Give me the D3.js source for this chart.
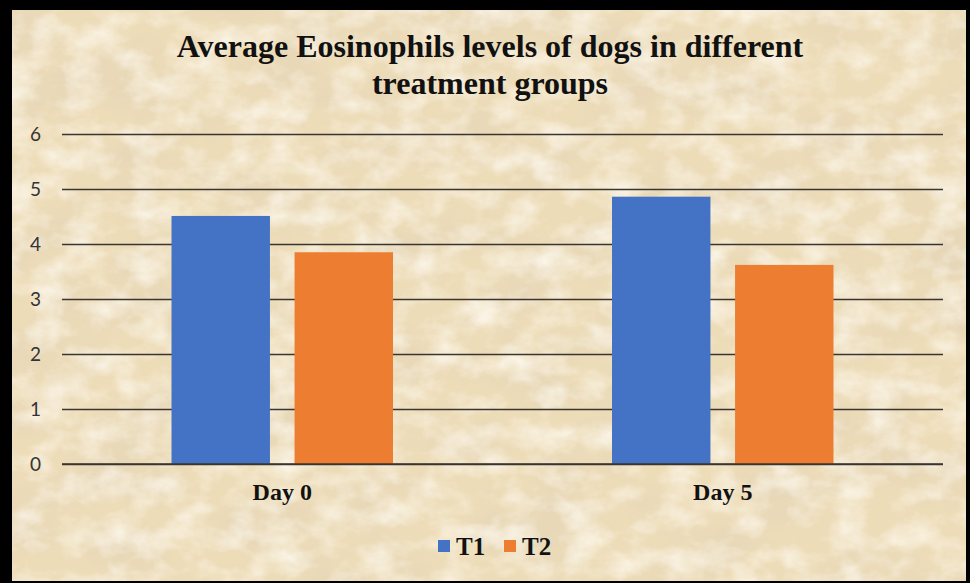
<!DOCTYPE html>
<html>
<head>
<meta charset="utf-8">
<script src="https://cdn.jsdelivr.net/npm/d3@7"></script>
<style>
  body { margin: 0; background: #000; }
  svg { display: block; }
</style>
</head>
<body>
<svg id="chart"></svg>
<script>
// Data
const categories = ["Day 0", "Day 5"];
const series = ["T1", "T2"];
const t1Values = [4.51, 4.86];
const t2Values = [3.85, 3.62];
const yTicks = [0, 1, 2, 3, 4, 5, 6];
const titleLines = ["Average Eosinophils levels of dogs in different", "treatment groups"];

const colors = { T1: "#4472C4", T2: "#ED7D31" };

const svgWidth = 970;
const svgHeight = 583;
const margin = { top: 134, right: 27, bottom: 119, left: 62 };
const width = svgWidth - margin.left - margin.right;
const height = svgHeight - margin.top - margin.bottom;

const serif = "'Liberation Serif', 'Times New Roman', serif";

const svg = d3.select("#chart")
    .attr("width", svgWidth)
    .attr("height", svgHeight);

// Parchment-like texture
const defs = svg.append("defs");
const filter = defs.append("filter").attr("id", "paper")
    .attr("x", 0).attr("y", 0).attr("width", "100%").attr("height", "100%");
filter.append("feTurbulence")
    .attr("type", "fractalNoise")
    .attr("baseFrequency", "0.012 0.018")
    .attr("numOctaves", 5)
    .attr("seed", 11)
    .attr("result", "noise");
filter.append("feColorMatrix")
    .attr("in", "noise")
    .attr("type", "matrix")
    .attr("values", "0 0 0 0 0.78  0 0 0 0 0.67  0 0 0 0 0.48  1.7 0 0 0 -0.7")
    .attr("result", "dark");
filter.append("feTurbulence")
    .attr("type", "fractalNoise")
    .attr("baseFrequency", "0.03 0.04")
    .attr("numOctaves", 4)
    .attr("seed", 3)
    .attr("result", "noise2");
filter.append("feColorMatrix")
    .attr("in", "noise2")
    .attr("type", "matrix")
    .attr("values", "0 0 0 0 0.98  0 0 0 0 0.94  0 0 0 0 0.85  0 1.6 0 0 -0.62")
    .attr("result", "light");
filter.append("feMerge").call(m => {
    m.append("feMergeNode").attr("in", "dark");
    m.append("feMergeNode").attr("in", "light");
}).attr("result", "merged");
filter.append("feComposite").attr("in", "merged").attr("in2", "SourceGraphic").attr("operator", "in");

// Frame + background
svg.append("rect")
    .attr("width", svgWidth).attr("height", svgHeight)
    .attr("fill", "#000");
svg.append("rect")
    .attr("x", 12).attr("y", 10)
    .attr("width", 954).attr("height", 571)
    .attr("fill", "#EDDCB8");
svg.append("rect")
    .attr("x", 12).attr("y", 10)
    .attr("width", 954).attr("height", 571)
    .attr("fill", "#fff")
    .attr("filter", "url(#paper)");

// Title
svg.append("text")
    .attr("x", 490)
    .attr("y", 57)
    .attr("text-anchor", "middle")
    .attr("font-family", serif)
    .attr("font-weight", "bold")
    .attr("font-size", 32)
    .attr("fill", "#111")
    .selectAll("tspan")
    .data(titleLines)
    .enter().append("tspan")
    .attr("x", 490)
    .attr("dy", (d, i) => i === 0 ? 0 : 37)
    .text(d => d);

const chart = svg.append("g")
    .attr("transform", `translate(${margin.left},${margin.top})`);

// Scales
const x0 = d3.scaleBand()
    .domain(categories)
    .range([0, width])
    .padding(0);

const x1 = d3.scaleBand()
    .domain(series)
    .range([0, x0.bandwidth()])
    .paddingInner(0.2)
    .paddingOuter(0.89);

const yScale = d3.scaleLinear()
    .domain([0, 6])
    .range([height, 0]);

// Gridlines
chart.append("g")
    .call(d3.axisLeft(yScale).tickValues(yTicks).tickSize(-width).tickFormat(""))
    .call(g => g.select(".domain").remove())
    .selectAll("line")
    .attr("stroke", "#3a3530")
    .attr("stroke-width", 1.6);

// Y labels
const yAxis = chart.append("g")
    .call(d3.axisLeft(yScale).tickValues(yTicks).tickSize(0).tickPadding(21).tickFormat(d3.format("d")))
    .attr("font-family", "Lato, 'Open Sans', sans-serif")
    .attr("font-size", 19);
yAxis.select(".domain").remove();
yAxis.selectAll("text").attr("fill", "#333");

// Bars
const rows = categories.map((c, i) => ({ category: c, T1: t1Values[i], T2: t2Values[i] }));

const groups = chart.selectAll(".group")
    .data(rows)
    .enter().append("g")
    .attr("class", "group")
    .attr("transform", d => `translate(${x0(d.category)},0)`);

groups.selectAll("rect")
    .data(d => series.map(s => ({ key: s, value: d[s] })))
    .enter().append("rect")
    .attr("x", d => x1(d.key))
    .attr("y", d => yScale(d.value))
    .attr("width", x1.bandwidth())
    .attr("height", d => height - yScale(d.value))
    .attr("fill", d => colors[d.key]);

// Baseline over bars
chart.append("line")
    .attr("x1", 0).attr("x2", width)
    .attr("y1", height).attr("y2", height)
    .attr("stroke", "#3a3530")
    .attr("stroke-width", 1.6);

// X labels
const xAxis = chart.append("g")
    .attr("transform", `translate(0,${height})`)
    .call(d3.axisBottom(x0).tickSize(0).tickPadding(19))
    .attr("font-family", serif)
    .attr("font-weight", "bold")
    .attr("font-size", 24);
xAxis.select(".domain").remove();
xAxis.selectAll("text").attr("fill", "#111");

// Legend
const legend = svg.append("g")
    .attr("transform", "translate(438,540)");

const legendItems = legend.selectAll(".item")
    .data(series)
    .enter().append("g")
    .attr("class", "item")
    .attr("transform", (d, i) => `translate(${i * 66},0)`);

legendItems.append("rect")
    .attr("width", 12).attr("height", 12)
    .attr("fill", d => colors[d]);

legendItems.append("text")
    .attr("x", 18)
    .attr("y", 15)
    .attr("font-family", serif)
    .attr("font-weight", "bold")
    .attr("font-size", 25)
    .attr("fill", "#111")
    .text(d => d);
</script>
</body>
</html>
